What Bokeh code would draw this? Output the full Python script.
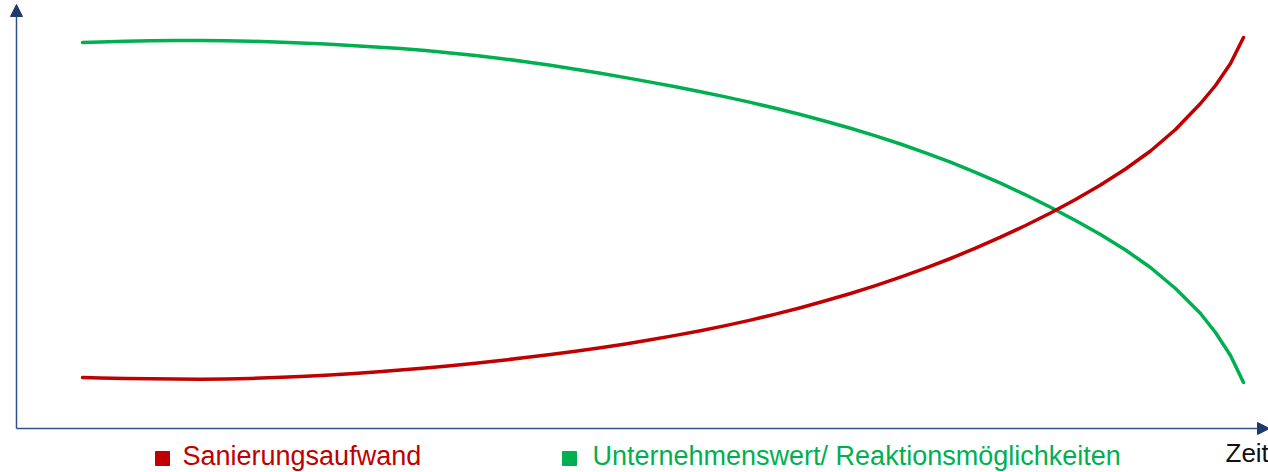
from bokeh.plotting import figure
from bokeh.models import Range1d, Arrow, NormalHead, ColumnDataSource
from bokeh.core.properties import value
from bokeh.embed import file_html
from bokeh.resources import INLINE

# Time positions (arbitrary units, origin at the axis)
time = [66, 84, 109, 134, 159, 184, 209, 234, 259, 284, 309, 334, 359, 384, 409, 434,
        459, 484, 509, 534, 559, 584, 609, 634, 659, 684, 709, 734, 759, 784, 809, 834,
        859, 884, 909, 934, 959, 984, 1009, 1034, 1059, 1084, 1109, 1134, 1159, 1184,
        1199, 1214, 1227]
unternehmenswert = [386, 386.6, 387.2, 387.7, 388, 388, 387.8, 387.3, 386.5, 385.5, 384.4,
                    383.0, 381.6, 380.0, 377.9, 375.6, 373.0, 370.1, 366.8, 363.2, 359.3,
                    355.2, 350.9, 346.4, 341.7, 336.8, 331.6, 326.1, 320.2, 314.0, 307.3,
                    300.2, 292.6, 284.5, 275.7, 266.3, 256.2, 245.3, 233.7, 221.3, 208,
                    194, 178.5, 161, 140, 115, 96, 73, 46]
sanierungsaufwand = [51, 50.6, 50.1, 49.7, 49.4, 49.3, 49.5, 50.0, 50.9, 52.0, 53.3, 54.8,
                     56.5, 58.4, 60.5, 62.8, 65.3, 68.0, 70.9, 74.0, 77.3, 80.8, 84.6, 88.7,
                     93.1, 97.8, 102.9, 108.4, 114.4, 120.8, 127.7, 135.0, 142.9, 151.3,
                     160.3, 170.0, 180.3, 191.3, 203.0, 215.5, 229.0, 243.5, 259.5, 277.5,
                     299, 325, 343, 365, 391]

legend_labels = ["Sanierungsaufwand", "Unternehmenswert/ Reaktionsmöglichkeiten"]
legend_colors = ["#c00000", "#00b050"]
axis_label_x = "Zeit"

W, H = 1268, 472
p = figure(width=W, height=H, output_backend="svg", toolbar_location=None,
           x_range=Range1d(-16, W - 16), y_range=Range1d(-(H - 428), 428),
           min_border=0, min_border_left=0, min_border_right=0,
           min_border_top=0, min_border_bottom=0)
p.axis.visible = False
p.grid.visible = False
p.outline_line_color = None
p.background_fill_color = "white"
p.border_fill_color = "white"

p.line(time, unternehmenswert, line_color=legend_colors[1], line_width=3.5,
       line_join="round", line_cap="round")
p.line(time, sanierungsaufwand, line_color=legend_colors[0], line_width=3.5,
       line_join="round", line_cap="round")

axis_col = "#2f5088"
p.add_layout(Arrow(end=NormalHead(size=12, fill_color="#1f3a6e", line_color="#1f3a6e"),
                   x_start=0, y_start=0, x_end=0, y_end=424,
                   line_color=axis_col, line_width=1.5))
p.add_layout(Arrow(end=NormalHead(size=12, fill_color="#1f3a6e", line_color="#1f3a6e"),
                   x_start=0, y_start=0, x_end=1253, y_end=0,
                   line_color=axis_col, line_width=1.5))

# legend
src = ColumnDataSource(dict(x=[146, 553], y=[-30, -30], c=legend_colors,
                            tx=[166, 576], ty=[-27, -27], t=legend_labels))
p.scatter("x", "y", marker="square", size=14, fill_color="c", line_color="c", source=src)
p.text("tx", "ty", text="t", text_color="c", text_font=value("Liberation Sans"),
       text_font_size="27px", text_baseline="middle", text_align="left", source=src)

p.text([1209], [-24], text=[axis_label_x], text_color="#111111",
       text_font=value("Liberation Sans"), text_font_size="26px",
       text_baseline="middle", text_align="left")

open("out.html", "w").write(file_html(p, INLINE))
